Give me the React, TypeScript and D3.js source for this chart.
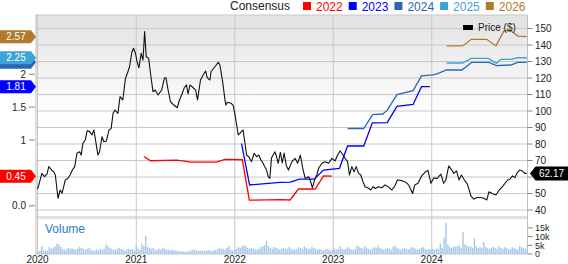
import React from "react";
import * as d3 from "d3";

const priceDates = [
"2020-01-01","2020-01-06","2020-01-17","2020-01-27","2020-02-05","2020-02-12","2020-02-23","2020-03-01","2020-03-07","2020-03-17","2020-03-25","2020-04-01","2020-04-13","2020-04-23","2020-05-01","2020-05-09","2020-05-18","2020-05-26","2020-06-05","2020-06-11","2020-06-17","2020-06-26","2020-07-03","2020-07-12","2020-07-21","2020-07-28","2020-08-05","2020-08-12","2020-08-18","2020-08-27","2020-09-03","2020-09-12","2020-09-22","2020-09-30","2020-10-07","2020-10-14","2020-10-25","2020-11-02","2020-11-12","2020-11-22","2020-12-01","2020-12-07","2020-12-16","2020-12-22","2020-12-29",
"2021-01-04","2021-01-11","2021-01-19","2021-01-26","2021-02-01","2021-02-07","2021-02-16","2021-02-22","2021-03-04","2021-03-12","2021-03-23","2021-04-05","2021-04-15","2021-04-21","2021-04-29","2021-05-08","2021-05-20","2021-06-02","2021-06-08","2021-06-18","2021-06-28","2021-07-06","2021-07-12","2021-07-19","2021-07-31","2021-08-09","2021-08-16","2021-08-27","2021-09-06","2021-09-15","2021-09-21","2021-10-01","2021-10-05","2021-10-19","2021-11-01","2021-11-07","2021-11-17","2021-11-25","2021-11-29","2021-12-05","2021-12-18","2021-12-26",
"2022-01-01","2022-01-08","2022-01-14","2022-01-20","2022-01-26","2022-02-01","2022-02-07","2022-02-14","2022-02-22","2022-03-04","2022-03-14","2022-03-23","2022-03-31","2022-04-08","2022-04-16","2022-04-22","2022-04-29","2022-05-05","2022-05-11","2022-05-17","2022-05-23","2022-05-30","2022-06-05","2022-06-11","2022-06-19","2022-06-26","2022-07-03","2022-07-11","2022-07-19","2022-08-01","2022-08-13","2022-08-22","2022-09-01","2022-09-10","2022-09-19","2022-10-02","2022-10-07","2022-10-16","2022-10-24","2022-11-01","2022-11-08","2022-11-20","2022-12-02","2022-12-15","2022-12-27",
"2023-01-08","2023-01-14","2023-01-26","2023-02-02","2023-02-14","2023-02-23","2023-03-02","2023-03-11","2023-03-19","2023-03-27","2023-04-05","2023-04-13","2023-04-21","2023-04-29","2023-05-12","2023-05-20","2023-05-28","2023-06-06","2023-06-18","2023-06-30","2023-07-12","2023-07-24","2023-08-06","2023-08-17","2023-08-27","2023-09-05","2023-09-17","2023-09-30","2023-10-08","2023-10-22","2023-10-30","2023-11-11","2023-11-24","2023-12-06","2023-12-18","2023-12-29",
"2024-01-09","2024-01-20","2024-02-04","2024-02-14","2024-02-22","2024-03-04","2024-03-14","2024-03-23","2024-04-02","2024-04-11","2024-04-20","2024-05-01","2024-05-12","2024-05-19","2024-05-25","2024-06-05","2024-06-17","2024-06-30","2024-07-12","2024-07-23","2024-07-31","2024-08-12","2024-08-26","2024-09-07","2024-09-19","2024-09-30","2024-10-08","2024-10-16","2024-10-26","2024-11-04","2024-11-13","2024-11-22","2024-12-02","2024-12-11","2024-12-18"
];
const priceValues = [
52.7,55.2,62.2,60.2,61.8,66.3,64.2,63.2,61.2,47.1,52.1,50.1,58.2,59.2,61.2,64.2,66.3,74.4,75.3,73.3,80.4,82.4,88.1,87.5,85.5,88.5,80.4,73.3,75.3,84.4,81.4,81.8,88.5,89.5,98.6,100.6,98.6,108.7,106.7,119.8,123.8,126.8,135.9,138,135,
129.9,126.2,135,130.9,148.1,132.9,131.9,123.8,111.7,112.7,109.7,112.7,119.8,120.2,112.7,105.6,103.6,102,105.6,109.7,114.1,115.8,110.3,115.8,114.1,112.7,106.7,118.8,121.8,124.2,120.2,118.8,123.8,126.8,129.5,127.9,117.8,107.7,103.6,105.3,104.7,103.6,
98.6,91.5,85.5,86.5,87.5,88.5,81.4,73.3,72.3,69.3,74.4,72.3,73.3,70.3,68.3,66.2,64.2,60.2,59.2,71.3,73.3,75.3,72.3,68.3,75,68.5,74.5,67,64.2,69.3,71.3,68.3,73.3,65.3,59.2,60.2,58.2,53.5,58.2,61.2,65.3,68.3,69.3,68.3,71.3,
69.7,72.3,75.8,74.4,71.3,69.3,61.2,66.3,63.2,66.3,62.2,61.2,57.2,54.1,53.2,52.1,54.1,53,54.1,53.5,55.2,54,52.1,54.5,58.2,58,57.5,56.5,55,50,55.2,56.2,60.5,62.7,64,56.2,
59.5,59,61.7,56.2,58,66.7,64.5,62.2,63.7,58.2,61.2,58.2,55.7,52,48.5,46.6,47.6,47.6,47.1,46.1,51,50,49.1,52.1,54.2,56.5,58.2,58.5,60.7,59.6,62.7,64.2,63.6,62.2,62.17
];

const eps2022Dates = ["2021-01-29","2021-02-23","2021-05-31","2021-07-25","2021-10-26","2021-11-25","2022-01-29","2022-02-24","2022-06-18","2022-07-25","2022-08-25","2022-10-26","2022-11-26","2022-12-27"];
const eps2022Values = [0.75,0.685,0.695,0.665,0.665,0.705,0.70,0.085,0.095,0.088,0.255,0.255,0.453,0.45];

const eps2023Dates = ["2022-01-26","2022-02-25","2022-06-18","2022-07-25","2022-08-29","2022-10-22","2022-11-26","2023-01-24","2023-02-23","2023-04-24","2023-05-26","2023-07-20","2023-08-25","2023-10-24","2023-11-24","2023-12-25"];
const eps2023Values = [0.95,0.316,0.355,0.36,0.405,0.405,0.544,0.57,0.909,0.909,1.26,1.263,1.51,1.54,1.81,1.81];

const eps2024Dates = ["2023-02-23","2023-04-24","2023-05-27","2023-07-03","2023-07-20","2023-08-25","2023-10-24","2023-11-24","2024-01-04","2024-01-18","2024-02-25","2024-04-22","2024-05-28","2024-07-31","2024-08-28","2024-10-20","2024-11-15","2024-12-18"];
const eps2024Values = [1.175,1.175,1.385,1.395,1.45,1.69,1.75,1.975,1.99,2.0,2.064,2.064,2.18,2.18,2.13,2.14,2.18,2.18];

const eps2025Dates = ["2024-02-25","2024-04-24","2024-05-26","2024-07-29","2024-08-28","2024-09-13","2024-10-20","2024-11-15","2024-12-18"];
const eps2025Values = [2.17,2.17,2.24,2.24,2.165,2.225,2.225,2.25,2.25];

const eps2026Dates = ["2024-02-25","2024-04-24","2024-05-27","2024-07-23","2024-08-26","2024-09-25","2024-10-20","2024-11-15","2024-12-18"];
const eps2026Values = [2.43,2.43,2.53,2.53,2.43,2.66,2.66,2.58,2.57];

// weekly volume, thousands of shares
const volumeStart = "2020-01-03";
const volumeValues = [
1.5,2,4.5,2,2,1.8,4,3,3.5,4.5,6,5.5,4,3,2.5,2.5,3.5,3,3.2,2.8,2.5,3,4,3.5,3,2.5,3,3.5,2.5,2,2,2.5,2,3,2.5,3,5.5,4.5,3.5,3,2.5,2.5,3,3.5,3,2.5,2,2.5,3,2.5,2.8,2,
5,3,2.5,6,4.5,10.5,4,3.5,3,3.5,2.2,2.5,3,2.5,3.5,3,2.5,2.5,2,2.5,2,2,1.8,1.6,1.5,1.5,1.2,1.5,1.5,2,2.5,2.5,2,2,1.8,2,1.8,2,2.2,2,1.8,2,2.5,2.5,3.5,3,3,2.5,3.5,4.5,2.5,2,
2.5,3,4,3.5,4.5,5,4.5,3.5,3,3.5,3,2.5,2.5,3,4,4.5,5,7.5,4.5,3.5,3,4,3.5,3,2.5,3,3.5,3,3,4,3,2.5,2.5,3,4,3.5,3,4.5,3.5,3,3,4,3.5,3,2.5,3,2.5,2,2.5,3,2.5,2,
2.5,3,2.5,3,4.5,3,2.5,3,4,3,2.5,2.5,3,5,4,3.5,3,4.5,3.5,3,2.5,3,4,3.5,5,3.5,3,2.5,3,3.5,3,2.5,4,5,3.5,3,2.5,3,3.5,3,2.5,3,4,3.5,3,2.5,3,3.5,4,3,2.5,3,
2.5,3,2.5,3,3,6,3.5,9.5,18,5.5,4,3.5,4.5,4,4.5,5,3.5,12.5,5.5,5,4,4.5,3.5,9,4.5,3.5,4,3.5,7,4,3.5,3,3.5,4,3.5,3,4.5,3.5,3,4,3.5,3,2.5,4,3.5,3,2.5,4.5,4,3.5,3,5
];

const priceTicks = [40, 50, 60, 70, 80, 90, 100, 110, 120, 130, 140, 150];
const epsTicks = [0, 1, 1.5, 2];
const epsTickLabels = ["0.0", "1", "1.5", "2"];
const volumeTicks = [0, 5000, 10000, 15000];
const volumeTickLabels = ["0", "5k", "10k", "15k"];
const yearTicks = ["2020", "2021", "2022", "2023", "2024"];

const legendYears = ["2022", "2023", "2024", "2025", "2026"];
const legendColors = ["#ff0000", "#0000ff", "#2a66b4", "#3ea3d6", "#b07a2e"];

const FONT = "'Liberation Sans', Arial, Helvetica, sans-serif";

export default function App() {
  const W = 568, H = 264;
  const left = 36, right = 527.5, top = 15, priceBottom = 216;
  const parse = d3.timeParse("%Y-%m-%d");
  const x = d3.scaleTime().domain([new Date(2020, 0, 1), new Date(2025, 0, 1)]).range([37.5, 530.5]);
  const yP = d3.scaleLinear().domain([40, 150]).range([210, 28.5]);
  const yE = d3.scaleLinear().domain([0, 2]).range([205.8, 74.2]);
  const yV = d3.scaleLinear().domain([0, 15000]).range([254, 227.9]);

  const priceLine = d3.line<number>().x((_, i) => x(parse(priceDates[i])!)).y((v) => yP(v));
  const epsLine = (dates: string[]) => d3.line<number>().x((_, i) => x(parse(dates[i])!)).y((v) => yE(v));

  const epsSeries = [
    { dates: eps2022Dates, values: eps2022Values, color: legendColors[0] },
    { dates: eps2023Dates, values: eps2023Values, color: legendColors[1] },
    { dates: eps2024Dates, values: eps2024Values, color: legendColors[2] },
    { dates: eps2025Dates, values: eps2025Values, color: legendColors[3] },
    { dates: eps2026Dates, values: eps2026Values, color: legendColors[4] },
  ];
  const labelYs = epsSeries.map((s) => yE(s.values[s.values.length - 1]));

  const vStart = parse(volumeStart)!;
  const volDates = volumeValues.map((_, i) => d3.timeDay.offset(vStart, i * 7));

  const lastPrice = priceValues[priceValues.length - 1];
  const lpY = yP(lastPrice);

  return (
    <svg width={W} height={H} style={{ position: "absolute", left: 0, top: 0, fontFamily: FONT }}>
      <defs>
        <linearGradient id="bg" x1="0" y1="0" x2="0" y2="1">
          <stop offset="0" stopColor="#e2e2e2" />
          <stop offset="0.5" stopColor="#ffffff" />
          <stop offset="1" stopColor="#ffffff" />
        </linearGradient>
      </defs>
      <rect x={0} y={0} width={W} height={H} fill="#fff" />
      <rect x={left} y={top} width={right - left} height={priceBottom - top} fill="url(#bg)" />
      {priceTicks.map((t) => (
        <line key={"hg" + t} x1={left} x2={right} y1={yP(t)} y2={yP(t)} stroke="#c8c8c8" strokeWidth={1} />
      ))}
      <rect x={left} y={216} width={right - left} height={3} fill="#e0e0e0" />
      {yearTicks.map((yr) => {
        const xx = x(new Date(+yr, 0, 1));
        return <line key={"vg" + yr} x1={xx} x2={xx} y1={top} y2={254} stroke="#c8c8c8" strokeWidth={1} />;
      })}
      <line x1={left} x2={right} y1={top} y2={top} stroke="#c8c8c8" />
      <line x1={left} x2={left} y1={top} y2={254} stroke="#c0c0c0" />
      <line x1={right} x2={right} y1={top} y2={254} stroke="#c0c0c0" />
      <line x1={left} x2={right} y1={254} y2={254} stroke="#c8c8c8" />

      {volumeValues.map((v, i) => (
        <rect key={"vb" + i} x={x(volDates[i]) - 0.7} y={yV(v * 1000)} width={1.4} height={254 - yV(v * 1000)} fill="#a6c8ea" />
      ))}
      <text x={45} y={233} fontSize={12} fill="#2a7fc9">Volume</text>

      {epsSeries.map((s, i) => (
        <path key={"eps" + i} d={epsLine(s.dates)(s.values) || ""} fill="none" stroke={s.color} strokeWidth={1.3} />
      ))}
      <path d={priceLine(priceValues) || ""} fill="none" stroke="#111" strokeWidth={1.1} strokeLinejoin="round" />

      {/* left EPS axis */}
      {epsTicks.map((t, i) => (
        <g key={"et" + t}>
          <line x1={29} x2={35} y1={yE(t)} y2={yE(t)} stroke="#888" />
          <text x={26} y={yE(t) + 3.5} fontSize={10} textAnchor="end" fill="#222">{epsTickLabels[i]}</text>
        </g>
      ))}
      {epsSeries.map((s, si) => {
        const v = s.values[s.values.length - 1];
        const cy = labelYs[si];
        // a label that a later label covers keeps only its visible edge, as in the reference
        const covered = labelYs.some((oy, oj) => oj > si && Math.abs(oy - cy) < 9);
        return (
          <g key={"lab" + si}>
            <path d={`M0,${cy - 6.5}H31L36,${cy}L31,${cy + 6.5}H0Z`} fill={s.color} />
            {!covered && (
              <text x={16} y={cy + 3.6} fontSize={10} textAnchor="middle" fill="#fff">{v.toFixed(2)}</text>
            )}
          </g>
        );
      })}

      {/* right price axis */}
      {priceTicks.map((t) => (
        <g key={"pt" + t}>
          <line x1={right} x2={right + 5} y1={yP(t)} y2={yP(t)} stroke="#888" />
          {Math.abs(yP(t) - lpY) > 10 && (
            <text x={535} y={yP(t) + 3.6} fontSize={10} fill="#222">{t}</text>
          )}
        </g>
      ))}
      {volumeTicks.map((t, i) => (
        <g key={"vt" + t}>
          <line x1={right} x2={right + 5} y1={yV(t)} y2={yV(t)} stroke="#888" />
          <text x={535} y={yV(t) + 3.3} fontSize={9} fill="#222">{volumeTickLabels[i]}</text>
        </g>
      ))}
      <path d={`M530,${lpY}L535.5,${lpY - 7}H568V${lpY + 7}H535.5Z`} fill="#000" />
      <text x={551.5} y={lpY + 3.6} fontSize={10} textAnchor="middle" fill="#fff">{lastPrice.toFixed(2)}</text>

      {/* x axis */}
      {yearTicks.map((yr) => (
        <text key={"yl" + yr} x={x(new Date(+yr, 0, 1))} y={263} fontSize={10} textAnchor="middle" fill="#222">{yr}</text>
      ))}

      {/* legend */}
      <text x={230} y={10} fontSize={12} fill="#222">Consensus</text>
      {legendYears.map((yr, i) => (
        <g key={"lg" + yr}>
          <rect x={303 + i * 45.7} y={2} width={8} height={8} fill={legendColors[i]} />
          <text x={316 + i * 45.7} y={10.5} fontSize={12} fill={legendColors[i]}>{yr}</text>
        </g>
      ))}
      <rect x={463} y={25} width={10} height={5} fill="#000" />
      <text x={478} y={30.5} fontSize={10} fill="#222">Price ($)</text>
    </svg>
  );
}
